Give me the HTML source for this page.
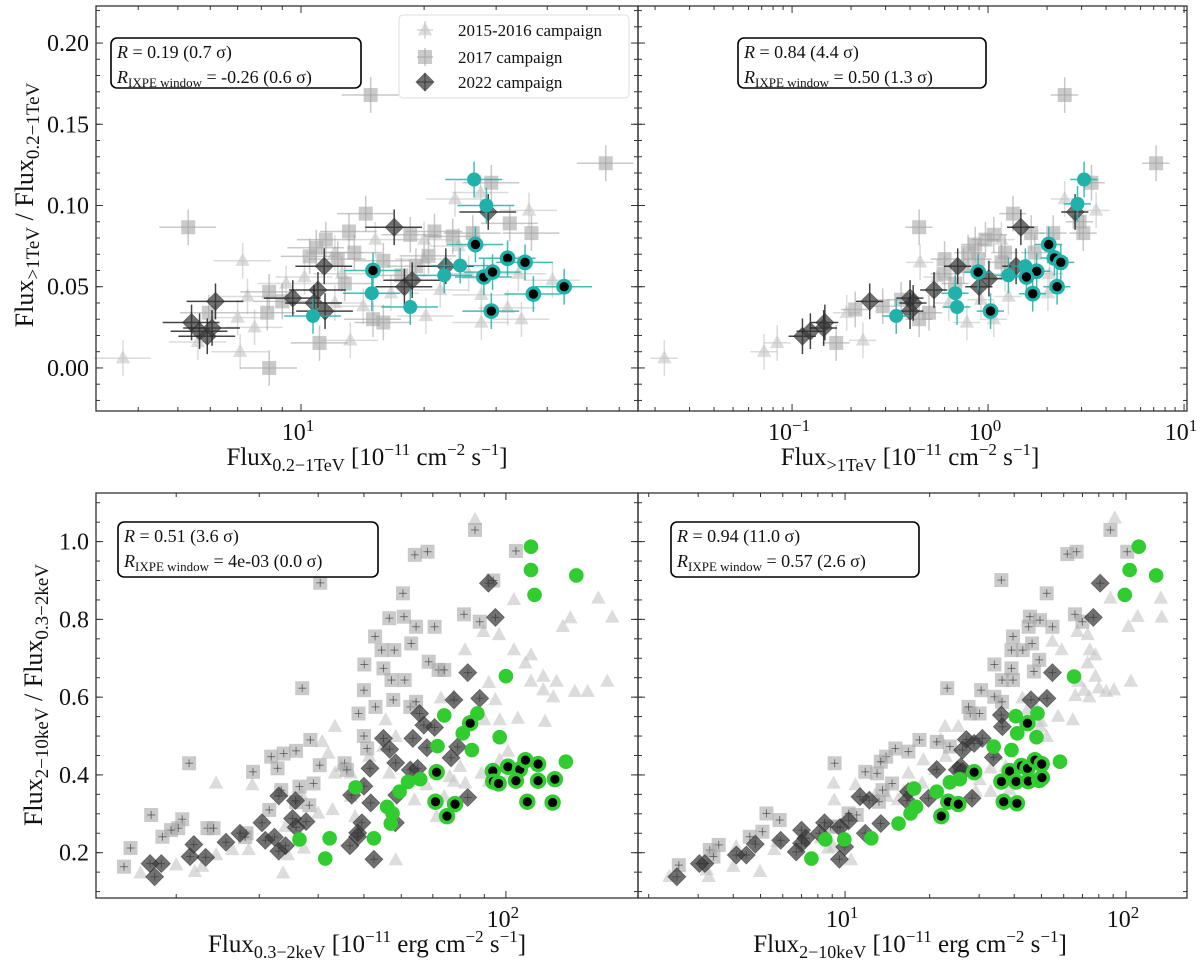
<!DOCTYPE html>
<html><head><meta charset="utf-8">
<style>
html,body{margin:0;padding:0;background:#fff;}
svg text{font-family:"Liberation Serif",serif;fill:#111;}
</style></head>
<body>
<svg id="fig" width="1200" height="974" viewBox="0 0 1200 974" xmlns="http://www.w3.org/2000/svg">
<rect width="1200" height="974" fill="#fff"/>
</svg>
<script>
// ===== Top-left panel data (x: Flux 0.2-1TeV, y: ratio) =====
const tlTriX=[3.67,5.6,7.2,7.4,7.0,7.7,7.1,9.2,13.2,15.2,20,23.8,27.5,36.1,41.2,34.6,32,27.6,27.6,34,20.2,21.9,25.7,16.6,14.2,12.6,12.1,10.2,20,24.3,12.1];
const tlTriY=[0.006,0.016,0.066,0.044,0.031,0.025,0.010,0.052,0.017,0.079,0.079,0.104,0.108,0.097,0.054,0.030,0.037,0.028,0.045,0.058,0.032,0.048,0.058,0.046,0.038,0.058,0.040,0.056,0.067,0.075,0.071];
const tlSqX=[5.3,14.8,55.6,29.2,32.4,36.6,14.4,13.1,10.9,11.5,13.5,12.8,15.9,18.5,20.5,21.2,23.5,17.6,19.1,8.36,8.27,5.95,8.36,11.1,15.0,15.9,10.5,9.0,26.3,12.3];
const tlSqY=[0.0866,0.168,0.126,0.114,0.089,0.083,0.095,0.084,0.074,0.079,0.071,0.052,0.066,0.082,0.069,0.084,0.081,0.057,0.0626,0.0468,0.034,0.034,0.0,0.0154,0.030,0.028,0.0687,0.041,0.083,0.067];
const tlDiaX=[5.4,5.65,5.9,6.06,6.18,9.55,11.0,10.76,11.45,11.4,16.9,17.9,18.7,22.6,28.7];
const tlDiaY=[0.028,0.0226,0.0195,0.0246,0.041,0.043,0.048,0.040,0.035,0.0626,0.0866,0.050,0.054,0.0626,0.096];
const tlCyX=[26.5,28.4,24.5,22.4,14.9,18.5,10.7];
const tlCyY=[0.116,0.100,0.063,0.057,0.046,0.0375,0.032];
const tlCyDotX=[15.0,26.7,28.0,29.4,32.0,35.3,37.0,44.0,29.2];
const tlCyDotY=[0.060,0.076,0.056,0.059,0.0675,0.065,0.0455,0.050,0.035];

// ===== Top-right panel data (x: Flux >1TeV) =====
const trTriX=[0.0223,0.072,0.084,0.23,0.19,0.45,0.78,3.56,2.46,1.22,1.27,1.07,0.63,2.06,1.17,0.55,0.92,2.02];
const trTriY=[0.006,0.010,0.0154,0.017,0.034,0.065,0.028,0.097,0.104,0.058,0.044,0.030,0.040,0.058,0.079,0.056,0.042,0.046];
const trSqX=[0.445,2.46,7.2,3.37,2.93,3.06,1.34,2.15,1.07,0.86,0.79,0.89,0.6,0.68,0.168,0.21,0.445,0.50,0.29,1.22,1.66,0.97,0.75,0.6,1.73,1.17,0.36];
const trSqY=[0.0866,0.168,0.126,0.114,0.090,0.083,0.095,0.083,0.082,0.076,0.071,0.067,0.058,0.052,0.0154,0.036,0.030,0.034,0.038,0.071,0.083,0.079,0.0626,0.067,0.071,0.065,0.042];
const trDiaX=[0.113,0.124,0.147,0.145,0.249,0.40,0.415,0.40,0.70,1.47,0.90,1.01,1.39,2.78,0.53];
const trDiaY=[0.0195,0.0226,0.028,0.0246,0.041,0.043,0.040,0.035,0.0626,0.0866,0.050,0.055,0.0626,0.096,0.048];
const trCyX=[3.09,2.86,1.55,1.27,0.68,0.695,0.34];
const trCyY=[0.116,0.101,0.0626,0.057,0.046,0.0375,0.032];
const trCyDotX=[0.89,2.04,2.18,2.35,1.77,1.57,1.69,2.25,1.03];
const trCyDotY=[0.059,0.076,0.0677,0.065,0.0595,0.056,0.0457,0.050,0.035];

// ===== Bottom-left panel data (x: Flux 0.3-2keV) =====
const blTriX=[86,157,168,137,132,104,96.7,89.6,81.9,104,113,110,120,128,113,140,149,164,120,126,106,121,95,92,97,90,72.8,77.6,101,97,102,92,88.8,80,77.6,82,76,74,67.8,64,62.7,55.6,55,58.4,51.3,46.9,43.4,43.4,40.8,42,44.7,46.9,42.9,40,36.9,34.1,37.3,34.5,33.7,28.5,26.3,22.7,21.9,20,24.3,16.8,24.3,29,58.4,47.9,56.6,71.3];
const blTriY=[1.056,0.854,0.805,0.803,0.781,0.85,0.76,0.768,0.721,0.721,0.708,0.687,0.653,0.64,0.64,0.614,0.614,0.64,0.618,0.6,0.545,0.537,0.593,0.637,0.541,0.541,0.597,0.601,0.46,0.438,0.404,0.383,0.404,0.421,0.383,0.378,0.395,0.344,0.374,0.335,0.395,0.541,0.473,0.498,0.447,0.404,0.404,0.524,0.485,0.455,0.421,0.344,0.31,0.301,0.348,0.267,0.211,0.194,0.147,0.207,0.207,0.164,0.151,0.168,0.194,0.147,0.378,0.374,0.181,0.292,0.404,0.292];
const blSqX=[105,68.2,64.1,86,40.4,60.5,94,81.5,88,52.8,56.6,60.8,64.5,70.6,54.5,58,63,50.1,55,57.2,61,68.6,72,74,50,52.9,57.7,62.7,64.5,48.7,50,50.8,37,38.5,35.9,31.8,33.8,40.3,45.5,46,29.1,32.8,39.1,36.5,33.4,31.5,35.9,38.3,21.3,17.7,20.6,20.2,19.5,18.7,23.3,24,28.2,16,15.5,28];
const blSqY=[0.976,0.974,0.966,1.03,0.894,0.867,0.90,0.813,0.794,0.756,0.803,0.807,0.781,0.781,0.721,0.721,0.738,0.684,0.674,0.644,0.644,0.691,0.67,0.67,0.618,0.575,0.593,0.575,0.588,0.558,0.5,0.468,0.623,0.49,0.462,0.447,0.455,0.425,0.43,0.413,0.408,0.417,0.378,0.370,0.361,0.31,0.33,0.322,0.43,0.297,0.286,0.263,0.258,0.241,0.263,0.263,0.250,0.212,0.164,0.24];
const blDiaX=[91.8,95,83,88,77.6,65.6,67,70.6,63.5,55,56.7,68,76.5,79,58.4,62.7,65,51.5,50,51.7,47.1,58.7,83,58.3,49.5,48.5,48.5,46.7,52.5,33,35.8,35.3,37.7,35.9,30.4,30.9,32.3,33,34.1,27.3,25.5,23.1,21.4,21.8,18.6,17.6,18.0];
const blDiaY=[0.893,0.805,0.663,0.597,0.593,0.558,0.528,0.522,0.494,0.494,0.466,0.47,0.444,0.472,0.431,0.413,0.417,0.417,0.371,0.328,0.348,0.348,0.342,0.277,0.277,0.251,0.241,0.218,0.183,0.346,0.334,0.288,0.28,0.265,0.277,0.232,0.24,0.204,0.218,0.25,0.227,0.188,0.190,0.221,0.172,0.172,0.138];
const blGrX=[113,113,115,141,100,87,74,81,97,71.6,84.7,134,65.8,62,59.5,56,57.5,57,48,52.5,42.3,36.5,41.4];
const blGrY=[0.987,0.927,0.863,0.913,0.654,0.558,0.553,0.507,0.497,0.474,0.464,0.434,0.389,0.382,0.357,0.318,0.301,0.275,0.368,0.237,0.237,0.234,0.185];
const blGrDotX=[71.3,70.9,75,78,84,93.8,94,96.5,101,107,110,105,117,117,111,125.6,127];
const blGrDotY=[0.407,0.331,0.294,0.325,0.533,0.410,0.383,0.378,0.421,0.414,0.438,0.385,0.428,0.385,0.331,0.329,0.389];

// ===== Bottom-right panel data (x: Flux 2-10keV) =====
const brTriX=[91.2,133,134,110,102,88,67.1,73,54.7,59,74.3,77.8,73,77.8,104,67.8,71,80,90.6,85,66,74,57.3,64.7,49.9,47.7,42.8,44.5,52.2,49.5,34.6,33,37.3,38.5,33,30.1,29.2,27.5,25.3,22.7,21.9,22.8,19,20.9,18.8,16.8,16.2,15.4,14.1,12.8,10.9,9.1,9.15,10.5,9.1,8.7,8.2,4.98,5.6,5.74,4,4.1,3.27,3.22,2.37];
const brTriY=[1.06,0.854,0.805,0.807,0.781,0.854,0.768,0.76,0.743,0.721,0.721,0.708,0.687,0.653,0.64,0.64,0.617,0.623,0.618,0.614,0.603,0.6,0.55,0.541,0.537,0.573,0.597,0.567,0.498,0.524,0.451,0.417,0.421,0.361,0.357,0.387,0.357,0.49,0.524,0.524,0.49,0.447,0.438,0.413,0.378,0.404,0.357,0.335,0.344,0.348,0.374,0.378,0.335,0.181,0.215,0.211,0.237,0.151,0.207,0.228,0.164,0.215,0.138,0.155,0.138];
const brSqX=[88,61.8,66.7,101,36,52.2,65.8,69.9,45.5,49.4,54.7,45,39.6,39.1,42.9,46.3,34,39.1,49.1,47,36.2,39.6,30.5,34,36.2,27.9,30.1,23.1,27.5,21.2,18.4,23.6,16.8,15.1,14,13.4,11.8,13,9.18,14.7,13.6,13.2,11,10.3,9.4,8.87,5.25,5.85,5.08,4.58,3.55,3.3,3.4,2.56];
const brSqY=[1.03,0.968,0.974,0.974,0.901,0.867,0.813,0.794,0.807,0.798,0.781,0.781,0.756,0.721,0.721,0.738,0.684,0.674,0.696,0.666,0.644,0.644,0.618,0.601,0.588,0.558,0.558,0.623,0.575,0.485,0.49,0.473,0.46,0.468,0.447,0.434,0.408,0.404,0.43,0.378,0.361,0.331,0.297,0.301,0.267,0.267,0.301,0.284,0.254,0.241,0.22,0.207,0.19,0.168];
const brDiaX=[80.9,76.5,54.7,52.3,45.9,36,36.3,30.8,27,26.2,28.8,33.7,25.8,25.1,26.2,21.2,28.3,16.8,16.6,19.8,12.2,11.3,10.3,9.97,9.55,11.8,13.4,9.6,8.45,8.1,7.25,7.0,7.0,6.7,5.9,4.79,4.45,4.1,3.17,3.03,2.52];
const brDiaY=[0.893,0.805,0.663,0.597,0.593,0.554,0.524,0.494,0.491,0.464,0.481,0.445,0.421,0.413,0.408,0.414,0.34,0.357,0.334,0.34,0.335,0.344,0.282,0.215,0.183,0.25,0.275,0.265,0.277,0.25,0.237,0.258,0.224,0.202,0.232,0.222,0.194,0.194,0.172,0.172,0.138];
const brGrX=[111,103,128,99,65.3,48.4,40.5,48,41,33.8,39.1,58.2,25.6,23.6,21.2,17.6,17.9,17.1,15.5,12.4,9.94,8.51,7.59];
const brGrY=[0.987,0.927,0.913,0.863,0.653,0.558,0.551,0.497,0.507,0.473,0.464,0.434,0.389,0.381,0.357,0.365,0.318,0.301,0.275,0.237,0.234,0.234,0.185];
const brGrDotX=[28.8,23.3,25.3,22,44.6,36,38.5,36.7,40.9,40.6,42.4,44.9,44.6,47.4,50.1,49.1,50.2];
const brGrDotY=[0.407,0.331,0.325,0.294,0.533,0.383,0.410,0.331,0.327,0.383,0.423,0.384,0.417,0.438,0.428,0.387,0.393];

const tlYTicks=[0.00,0.05,0.10,0.15,0.20];
const blYTicks=[0.2,0.4,0.6,0.8,1.0];

const NS='http://www.w3.org/2000/svg';
const svg=document.getElementById('fig');
function mk(tag,attrs,parent){const e=document.createElementNS(NS,tag);for(const k in attrs)e.setAttribute(k,attrs[k]);(parent||svg).appendChild(e);return e;}

function makeScales(p){
  const sx=v=>p.px0+(Math.log10(v)-p.lx0)/(p.lx1-p.lx0)*(p.px1-p.px0);
  const sy=v=>p.py1-(v-p.yd0)/(p.yd1-p.yd0)*(p.py1-p.py0);
  return {sx,sy};
}

function marker(g,type,cx,cy){
  let e;
  if(type==='tri'){const r=8;e=mk('polygon',{points:`${cx},${cy-r} ${cx-r*0.9},${cy+r*0.65} ${cx+r*0.9},${cy+r*0.65}`,fill:'#c4c4c4','fill-opacity':0.6},g);}
  else if(type==='sq'){const s=7;e=mk('rect',{x:cx-s,y:cy-s,width:2*s,height:2*s,fill:'#a6a6a6','fill-opacity':0.6},g);}
  else if(type==='dia'){const r=9;e=mk('polygon',{points:`${cx},${cy-r} ${cx+r},${cy} ${cx},${cy+r} ${cx-r},${cy}`,fill:'#3a3a3a','fill-opacity':0.72,stroke:'#222','stroke-opacity':0.5,'stroke-width':0.8},g);}
  else if(type==='cy'){e=mk('circle',{cx,cy,r:7,fill:'#1fb1aa'},g);}
  else if(type==='cydot'){e=mk('circle',{cx,cy,r:6.3,fill:'#000',stroke:'#1fb1aa','stroke-width':3.2},g);}
  else if(type==='gr'){e=mk('circle',{cx,cy,r:7.3,fill:'#30cc30'},g);}
  else if(type==='grdot'){e=mk('circle',{cx,cy,r:6.4,fill:'#000',stroke:'#30cc30','stroke-width':3.6},g);}
  return e;
}

const styleCol={tri:'#bdbdbd',sq:'#9a9a9a',dia:'#222',cy:'#1fb1aa',cydot:'#1fb1aa',gr:'#30cc30',grdot:'#30cc30'};

function drawSeries(p,sc,type,xs,ys,name,errs){
  const g=mk('g',{},svg);
  
  
  for(let i=0;i<xs.length;i++){
    const cx=sc.sx(xs[i]),cy=sc.sy(ys[i]);
    if(cx<p.px0-8||cx>p.px1+8)continue;
    if(errs){
      const op=(type==='tri'||type==='sq')?0.55:0.85;
      const col=styleCol[type];
      const xl=sc.sx(xs[i]*0.85),xr=sc.sx(xs[i]*1.17);
      const yt=sc.sy(ys[i]+0.011),yb=sc.sy(ys[i]-0.011);
      mk('line',{x1:xl,y1:cy,x2:xr,y2:cy,stroke:col,'stroke-width':1.5,'stroke-opacity':op},g);
      mk('line',{x1:cx,y1:yt,x2:cx,y2:yb,stroke:col,'stroke-width':1.5,'stroke-opacity':op},g);
    }
    const m=marker(g,type,cx,cy);
    
    
    if(!errs&&(type==='sq'||type==='dia')){
      mk('line',{x1:cx-4,y1:cy,x2:cx+4,y2:cy,stroke:'#333','stroke-width':1,'stroke-opacity':0.6},g);
      mk('line',{x1:cx,y1:cy-4,x2:cx,y2:cy+4,stroke:'#333','stroke-width':1,'stroke-opacity':0.6},g);
    }
  }
}

function axes(p,sc,yTicks,yMinorStep,showY,decades,pname){
  const g=mk('g',{},svg);
  
  
  mk('rect',{x:p.px0,y:p.py0,width:p.px1-p.px0,height:p.py1-p.py0,fill:'none',stroke:'#333','stroke-width':1.3},g);
  for(let d=Math.floor(p.lx0);d<=Math.ceil(p.lx1);d++){
    for(let m=1;m<10;m++){
      const v=m*Math.pow(10,d);const lv=Math.log10(v);
      if(lv<p.lx0||lv>p.lx1)continue;
      const x=sc.sx(v);const L=m===1?7:4;
      mk('line',{x1:x,y1:p.py1,x2:x,y2:p.py1-L,stroke:'#333','stroke-width':1},g);
      mk('line',{x1:x,y1:p.py0,x2:x,y2:p.py0+L,stroke:'#333','stroke-width':1},g);
      if(m===1){
        const t=mk('text',{x:x-3,y:p.py1+29,'font-size':24,'text-anchor':'middle'},g);
        
        
        t.textContent='10';
        const s=mk('tspan',{dy:-9,'font-size':17},t);s.textContent=d<0?'−'+(-d):String(d);
      }
    }
  }
  const ymin=p.yd0,ymax=p.yd1;
  for(let v=Math.ceil(ymin/yMinorStep)*yMinorStep;v<=ymax+1e-9;v+=yMinorStep){
    const y=sc.sy(v);
    mk('line',{x1:p.px0,y1:y,x2:p.px0+4,y2:y,stroke:'#333','stroke-width':1},g);
    mk('line',{x1:p.px1,y1:y,x2:p.px1-4,y2:y,stroke:'#333','stroke-width':1},g);
  }
  yTicks.forEach(v=>{
    const y=sc.sy(v);
    mk('line',{x1:p.px0,y1:y,x2:p.px0+7,y2:y,stroke:'#333','stroke-width':1},g);
    mk('line',{x1:p.px1,y1:y,x2:p.px1-7,y2:y,stroke:'#333','stroke-width':1},g);
    if(showY){
      const t=mk('text',{x:p.px0-7,y:y+8,'font-size':24,'text-anchor':'end'},g);
      
      
      t.textContent=v.toFixed(decades);
    }
  });
}

function drawPanel(p,pre,yTicks,yStep,showY,dec,errs){
  const sc=makeScales(p);
  const d=window;
  drawSeries(p,sc,'tri',d[pre+'TriX'],d[pre+'TriY'],pre+'-2015-2016-points',errs);
  drawSeries(p,sc,'sq',d[pre+'SqX'],d[pre+'SqY'],pre+'-2017-points',errs);
  drawSeries(p,sc,'dia',d[pre+'DiaX'],d[pre+'DiaY'],pre+'-2022-points',errs);
  if(d[pre+'CyX']){
    drawSeries(p,sc,'cy',d[pre+'CyX'],d[pre+'CyY'],pre+'-ixpe-points',errs);
    drawSeries(p,sc,'cydot',d[pre+'CyDotX'],d[pre+'CyDotY'],pre+'-ixpe-window-points',errs);
  } else {
    drawSeries(p,sc,'gr',d[pre+'GrX'],d[pre+'GrY'],pre+'-ixpe-points',false);
    drawSeries(p,sc,'grdot',d[pre+'GrDotX'],d[pre+'GrDotY'],pre+'-ixpe-window-points',false);
  }
  axes(p,sc,yTicks,yStep,showY,dec,pre);
}
Object.assign(window,{tlTriX,tlTriY,tlSqX,tlSqY,tlDiaX,tlDiaY,tlCyX,tlCyY,tlCyDotX,tlCyDotY,
trTriX,trTriY,trSqX,trSqY,trDiaX,trDiaY,trCyX,trCyY,trCyDotX,trCyDotY,
blTriX,blTriY,blSqX,blSqY,blDiaX,blDiaY,blGrX,blGrY,blGrDotX,blGrDotY,
brTriX,brTriY,brSqX,brSqY,brDiaX,brDiaY,brGrX,brGrY,brGrDotX,brGrDotY});

const TL={px0:96,px1:638,py0:6,py1:411,lx0:0.4988,lx1:1.824,yd0:-0.0265,yd1:0.2228};
const TR={px0:638,px1:1187,py0:6,py1:411,lx0:-1.786,lx1:1.015,yd0:-0.0265,yd1:0.2228};
const BL={px0:96,px1:638,py0:493,py1:898,lx0:1.131,lx1:2.280,yd0:0.0835,yd1:1.125};
const BR={px0:638,px1:1187,py0:493,py1:898,lx0:0.263,lx1:2.217,yd0:0.0835,yd1:1.125};

drawPanel(TL,'tl',tlYTicks,0.01,true,2,true);
drawPanel(TR,'tr',tlYTicks,0.01,false,2,true);
drawPanel(BL,'bl',blYTicks,0.05,true,1,false);
drawPanel(BR,'br',blYTicks,0.05,false,1,false);

function annot(x,y,w,h,r1,r2,name){
  const g=mk('g',{},svg);
  
  
  mk('rect',{x,y,width:w,height:h,rx:6,fill:'#fff',stroke:'#000','stroke-width':1.6},g);
  const t1=mk('text',{x:x+6,y:y+20,'font-size':18},g);
  const i1=mk('tspan',{'font-style':'italic'},t1);i1.textContent='R';
  const a1=mk('tspan',{},t1);a1.textContent=' = '+r1;
  const t2=mk('text',{x:x+6,y:y+45,'font-size':18},g);
  const i2=mk('tspan',{'font-style':'italic'},t2);i2.textContent='R';
  const s2=mk('tspan',{'font-size':13,dy:4},t2);s2.textContent='IXPE window';
  const a2=mk('tspan',{dy:-4},t2);a2.textContent=' = '+r2;
}
annot(111,38,250,50,'0.19 (0.7 σ)','-0.26 (0.6 σ)','stats-box-top-left');
annot(738,38,248,50,'0.84 (4.4 σ)','0.50 (1.3 σ)','stats-box-top-right');
annot(118,522,260,55,'0.51 (3.6 σ)','4e-03 (0.0 σ)','stats-box-bottom-left');
annot(671,522,248,55,'0.94 (11.0 σ)','0.57 (2.6 σ)','stats-box-bottom-right');

(function(){
  const g=mk('g',{},svg);
  
  
  mk('rect',{x:399,y:15,width:230,height:83,rx:4,fill:'#fff','fill-opacity':0.85,stroke:'#ddd','stroke-width':1},g);
  const items=[['tri','2015-2016 campaign',30],['sq','2017 campaign',57],['dia','2022 campaign',82]];
  items.forEach(it=>{
    const eg=mk('g',{},g);
    
    
    const col=styleCol[it[0]];
    mk('line',{x1:417,y1:it[2],x2:433,y2:it[2],stroke:col,'stroke-width':1.5,'stroke-opacity':0.6},eg);
    mk('line',{x1:425,y1:it[2]-9,x2:425,y2:it[2]+9,stroke:col,'stroke-width':1.5,'stroke-opacity':0.6},eg);
    marker(eg,it[0],425,it[2]);
    const t=mk('text',{x:458,y:it[2]+6,'font-size':17},eg);t.textContent=it[1];
  });
})();

function xlabel(cx,y,sub,unit,name){
  const t=mk('text',{x:cx,y,'font-size':25,'text-anchor':'middle'},svg);
  
  
  const a=mk('tspan',{},t);a.textContent='Flux';
  const b=mk('tspan',{'font-size':18,dy:6},t);b.textContent=sub;
  const c=mk('tspan',{dy:-6},t);c.textContent=' [10';
  const d=mk('tspan',{'font-size':17,dy:-10},t);d.textContent='−11';
  const e=mk('tspan',{dy:10},t);e.textContent=' '+unit+'cm';
  const f=mk('tspan',{'font-size':17,dy:-10},t);f.textContent='−2';
  const g2=mk('tspan',{dy:10},t);g2.textContent=' s';
  const h=mk('tspan',{'font-size':17,dy:-10},t);h.textContent='−1';
  const i=mk('tspan',{dy:10},t);i.textContent=']';
}
xlabel(367,465,'0.2−1TeV','','x-axis-title-top-left');
xlabel(910,465,'>1TeV','','x-axis-title-top-right');
xlabel(367,952,'0.3−2keV','erg ','x-axis-title-bottom-left');
xlabel(910,952,'2−10keV','erg ','x-axis-title-bottom-right');

function ylabel(x,cy,s1,s2,name){
  const t=mk('text',{x:0,y:0,'font-size':26,'text-anchor':'middle',transform:`translate(${x},${cy}) rotate(-90)`},svg);
  
  
  const a=mk('tspan',{},t);a.textContent='Flux';
  const b=mk('tspan',{'font-size':19,dy:6},t);b.textContent=s1;
  const c=mk('tspan',{dy:-6},t);c.textContent=' / Flux';
  const d=mk('tspan',{'font-size':19,dy:6},t);d.textContent=s2;
}
ylabel(33,205,'>1TeV','0.2−1TeV','y-axis-title-top');
ylabel(42,695,'2−10keV','0.3−2keV','y-axis-title-bottom');
</script>
</body></html>
